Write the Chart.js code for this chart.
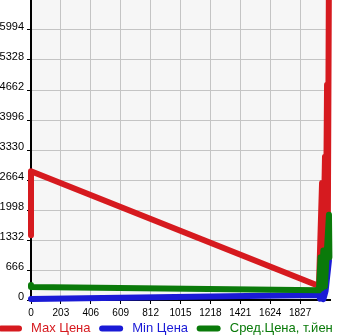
<!DOCTYPE html>
<html>
<head>
<meta charset="utf-8">
<script src="https://cdn.jsdelivr.net/npm/chart.js@4.4.1/dist/chart.umd.min.js"></script>
<style>
  html, body { margin: 0; padding: 0; background: #fff; overflow: hidden; }
  #wrap { position: relative; width: 345px; height: 335px; overflow: hidden; }
  #wrap canvas { position: absolute; left: -8px; top: 0; width: 440px; height: 345px; }
</style>
</head>
<body>
<div id="wrap"><canvas id="c" width="440" height="345"></canvas></div>
<script>
// price history: max / min / average, thousands of yen
const yTicks = [0, 666, 1332, 1998, 2664, 3330, 3996, 4662, 5328, 5994];
const xTicks = [0, 203, 406, 609, 812, 1015, 1218, 1421, 1624, 1827];

const maxX = [0, 0, 1955, 1976, 1980, 1996, 2000, 2010, 2014, 2023];
const maxY = [1440, 2860, 310, 2600, 400, 3180, 500, 4780, 700, 7400];

const minX = [0, 1955, 1962, 1972, 1985, 2000, 2023];
const minY = [22, 111, 30, 160, 20, 200, 880];

const avgX = [0, 0, 1955, 1966, 1972, 1985, 1995, 2023, 2026];
const avgY = [335, 290, 215, 950, 260, 1100, 300, 1890, 950];

const RED = "#d61a1f";
const BLUE = "#1a1ad6";
const GREEN = "#0a7a0a";
const FONT = "'Liberation Sans', Arial, sans-serif";

const pts = (xs, ys) => xs.map((x, i) => ({ x, y: ys[i] }));

const line = (label, data, color, order) => ({
  label, data, order,
  borderColor: color, backgroundColor: color,
  borderWidth: 6, pointRadius: 0, tension: 0,
  borderCapStyle: "round", borderJoinStyle: "round",
  clip: { left: 8, top: 0, right: 8, bottom: 8 },
});

// light grey plot background
const plotBg = {
  id: "plotBg",
  beforeDraw(chart) {
    const { ctx, chartArea: a } = chart;
    ctx.save();
    ctx.fillStyle = "#f6f6f6";
    ctx.fillRect(a.left, a.top, a.right - a.left, a.bottom - a.top);
    ctx.restore();
  },
};

new Chart(document.getElementById("c"), {
  type: "line",
  data: {
    datasets: [
      line("Max Цена", pts(maxX, maxY), RED, 2),
      line("Min Цена", pts(minX, minY), BLUE, 1),
      line("Сред.Цена, т.йен", pts(avgX, avgY), GREEN, 0),
    ],
  },
  plugins: [plotBg],
  options: {
    responsive: false,
    animation: false,
    layout: { padding: 0 },
    scales: {
      x: {
        type: "linear", min: 0, max: 2030,
        afterBuildTicks: (s) => { s.ticks = xTicks.map((v) => ({ value: v })); },
        afterFit: (s) => { s.height = 16; s.paddingLeft = 0; s.paddingRight = 0; },
        grid: { color: "#c4c4c4", tickColor: "#000", tickLength: 4 },
        border: { color: "#000", width: 2 },
        ticks: {
          color: "#000", font: { family: FONT, size: 10 }, padding: 3,
          maxRotation: 0, autoSkip: false,
          callback: (v) => String(v),
        },
      },
      y: {
        type: "linear", min: 0, max: 6660,
        afterBuildTicks: (s) => { s.ticks = yTicks.map((v) => ({ value: v })); },
        afterFit: (s) => { s.width = 39; s.paddingTop = 0; s.paddingBottom = 0; },
        grid: { color: "#c4c4c4", tickColor: "#000", tickLength: 4 },
        border: { color: "#000", width: 2 },
        ticks: {
          color: "#000", padding: 3,
          font: { family: FONT, size: 11, lineHeight: "7px" },
          callback: (v) => [String(v), ""],
        },
      },
      pad: {
        type: "linear", position: "right", display: true,
        grid: { display: false }, border: { display: false }, ticks: { display: false },
        afterFit: (s) => { s.width = 102; },
      },
    },
    plugins: {
      tooltip: { enabled: false },
      legend: {
        position: "bottom", align: "start",
        labels: {
          boxWidth: 24, boxHeight: 6, padding: 6,
          font: { family: FONT, size: 13 },
          sort: (a, b) => a.datasetIndex - b.datasetIndex,
          generateLabels: (chart) => chart.data.datasets.map((ds, i) => ({
            text: "\u2009" + ds.label + "\u2009", fillStyle: ds.borderColor, strokeStyle: ds.borderColor,
            lineWidth: 0, fontColor: ds.borderColor, borderRadius: 3,
            datasetIndex: i, hidden: false,
          })),
        },
      },
    },
  },
});
</script>
</body>
</html>
